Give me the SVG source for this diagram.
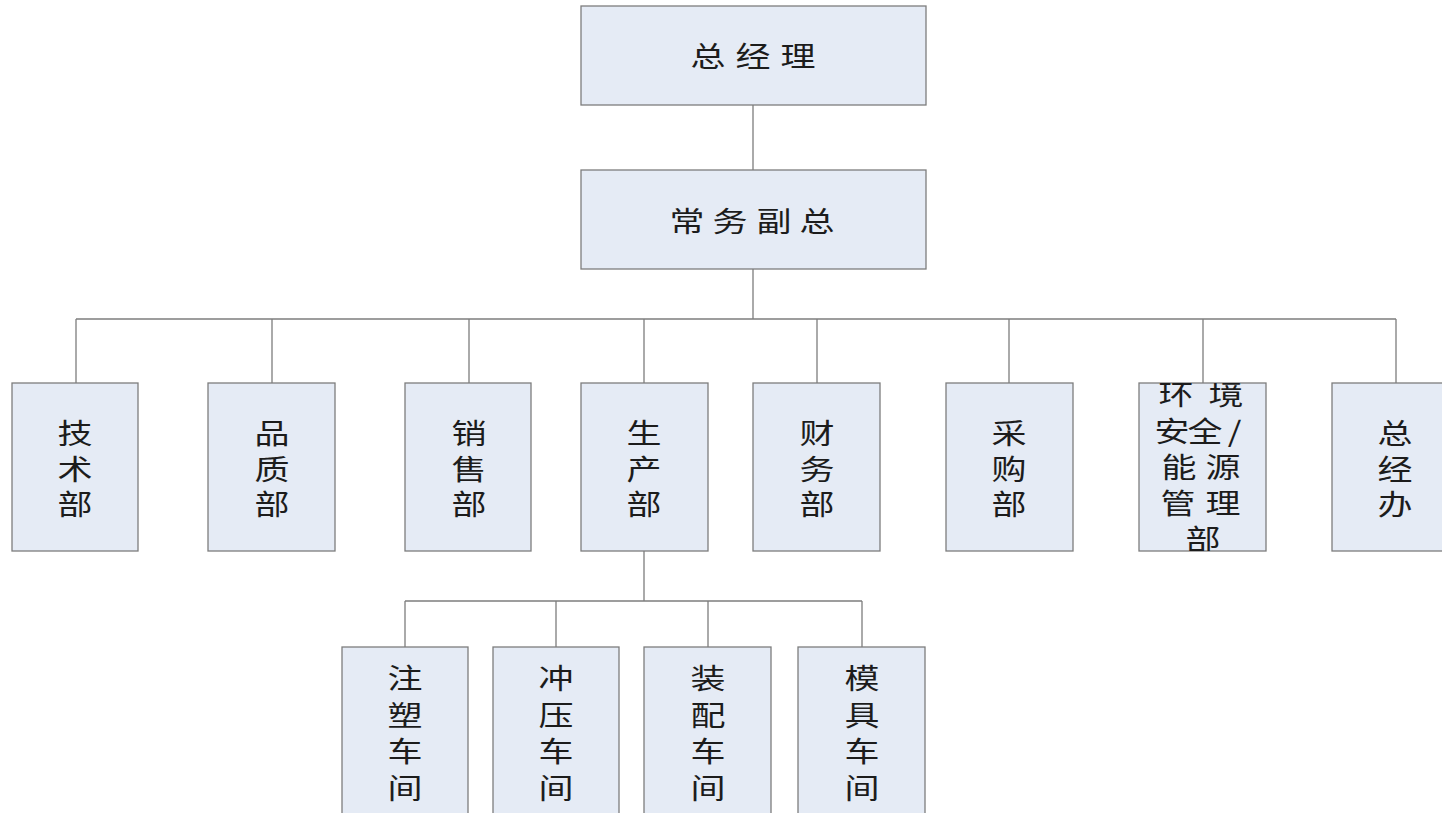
<svg xmlns="http://www.w3.org/2000/svg" width="1442" height="813" viewBox="0 0 1442 813">
<style>
.box{fill:#e5ebf5;stroke:#7d7d7d;stroke-width:1.3}
.ln{fill:none;stroke:#7d7d7d;stroke-width:1.3}
text{font-family:"Noto Sans CJK SC","Noto Sans CJK JP",sans-serif;font-size:28px;fill:#1c1c1c;text-anchor:middle;dominant-baseline:central}
</style>
<defs>
<clipPath id="envclip"><rect x="1139" y="383" width="127" height="168"/></clipPath>
</defs>
<rect width="1442" height="813" fill="#ffffff"/>
<g id="connectors">
<path class="ln" d="M753 105V170M753 269V319M76 319H1396M76 319V383M272 319V383M469 319V383M644 319V383M817 319V383M1009 319V383M1203 319V383M1396 319V383"/>
<path class="ln" d="M644 551V601M405 601H862M405 601V647M556 601V647M708 601V647M862 601V647"/>
</g>
<g id="n-zjl"><rect class="box" x="581" y="6" width="345" height="99"/><g transform="scale(1.25 1)"><text x="566.4 602.4 638.4" y="55">总经理</text></g></g>
<g id="n-cwfz"><rect class="box" x="581" y="170" width="345" height="99"/><g transform="scale(1.25 1)"><text x="549.6 584 619.2 653.6" y="220">常务副总</text></g></g>
<g id="n-jsb"><rect class="box" x="12" y="383" width="126" height="168"/><g transform="scale(1.25 1)"><text x="60 60 60" y="432 467.5 503">技术部</text></g></g>
<g id="n-pzb"><rect class="box" x="208" y="383" width="127" height="168"/><g transform="scale(1.25 1)"><text x="217.6 217.6 217.6" y="432 467.5 503">品质部</text></g></g>
<g id="n-xsb"><rect class="box" x="405" y="383" width="126" height="168"/><g transform="scale(1.25 1)"><text x="375.2 375.2 375.2" y="432 467.5 503">销售部</text></g></g>
<g id="n-scb"><rect class="box" x="581" y="383" width="127" height="168"/><g transform="scale(1.25 1)"><text x="515.2 515.2 515.2" y="432 467.5 503">生产部</text></g></g>
<g id="n-cwb"><rect class="box" x="753" y="383" width="127" height="168"/><g transform="scale(1.25 1)"><text x="653.6 653.6 653.6" y="432 467.5 503">财务部</text></g></g>
<g id="n-cgb"><rect class="box" x="946" y="383" width="127" height="168"/><g transform="scale(1.25 1)"><text x="807.2 807.2 807.2" y="432 467.5 503">采购部</text></g></g>
<g id="n-hjaq"><rect class="box" x="1139" y="383" width="127" height="168"/><g clip-path="url(#envclip)"><g transform="scale(1.25 1)"><text x="940.8 980.8 937.6 964 987.6 943.2 978.4 942.4 978.4 962.4" y="393 393 430 430 430 466 466 502 502 538">环境安全/能源管理部</text></g></g></g>
<g id="n-zjb"><rect class="box" x="1332" y="383" width="130" height="168"/><g transform="scale(1.25 1)"><text x="1116 1116 1116" y="432 467.5 503">总经办</text></g></g>
<g id="n-zs"><rect class="box" x="342" y="647" width="126" height="190"/><g transform="scale(1.25 1)"><text x="324 324 324 324" y="677 713.5 750 786.5">注塑车间</text></g></g>
<g id="n-cy"><rect class="box" x="493" y="647" width="126" height="190"/><g transform="scale(1.25 1)"><text x="444.8 444.8 444.8 444.8" y="677 713.5 750 786.5">冲压车间</text></g></g>
<g id="n-zp"><rect class="box" x="644" y="647" width="127" height="190"/><g transform="scale(1.25 1)"><text x="566.4 566.4 566.4 566.4" y="677 713.5 750 786.5">装配车间</text></g></g>
<g id="n-mj"><rect class="box" x="798" y="647" width="127" height="190"/><g transform="scale(1.25 1)"><text x="689.6 689.6 689.6 689.6" y="677 713.5 750 786.5">模具车间</text></g></g>
</svg>
